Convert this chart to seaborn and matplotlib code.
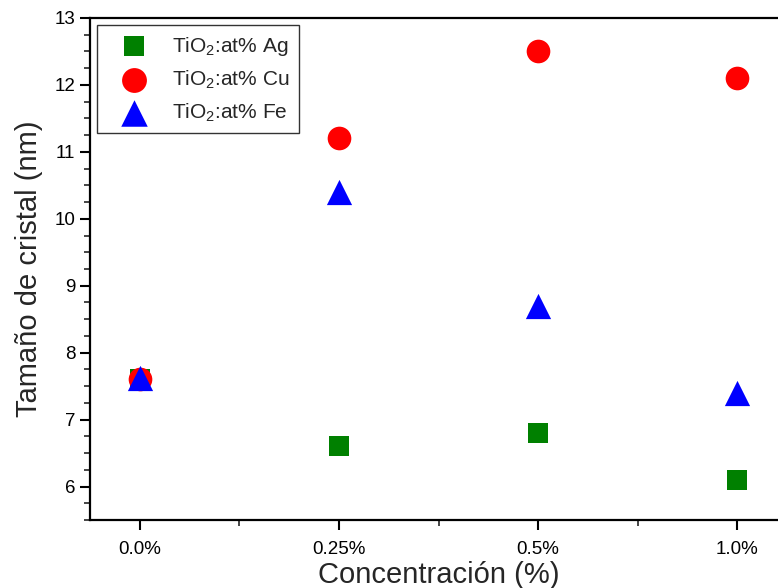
import matplotlib
matplotlib.use("Agg")
import matplotlib.pyplot as plt
from matplotlib.ticker import MultipleLocator
import pandas as pd
import seaborn as sns

# ── data ──
concentrations = ["0.0%", "0.25%", "0.5%", "1.0%"]
ag_size = [7.6, 6.6, 6.8, 6.1]
cu_size = [7.6, 11.2, 12.5, 12.1]
fe_size = [7.62, 10.4, 8.7, 7.4]

series = ["TiO$_2$:at% Ag", "TiO$_2$:at% Cu", "TiO$_2$:at% Fe"]
values = [ag_size, cu_size, fe_size]

STYLE = {
    series[0]: dict(color="#008000", marker="s", s=200),
    series[1]: dict(color="#ff0000", marker="o", s=290),
    series[2]: dict(color="#0000ff", marker="^", s=330),
}

sns.set_theme(style="ticks")
plt.rcParams["font.family"] = ["Liberation Sans", "DejaVu Sans"]
plt.rcParams["mathtext.fontset"] = "custom"
plt.rcParams["mathtext.rm"] = "Liberation Sans"

fig = plt.figure(figsize=(7.78, 5.88), dpi=100)
ax = fig.add_axes([0.1157, 0.1156, 0.8959, 0.8538])

for name, vals in zip(series, values):
    df = pd.DataFrame({"x": range(len(concentrations)), "y": vals})
    st = STYLE[name]
    sns.scatterplot(data=df, x="x", y="y", color=st["color"], marker=st["marker"],
                    s=st["s"], linewidth=0, ax=ax, label=name, zorder=3)

ax.set_xlim(-0.25, 3.25)
ax.set_ylim(5.5, 13)
ax.set_xticks(range(len(concentrations)))
ax.set_xticklabels(concentrations)
ax.xaxis.set_minor_locator(MultipleLocator(0.5))
ax.yaxis.set_major_locator(MultipleLocator(1))
ax.yaxis.set_minor_locator(MultipleLocator(0.25))

ax.tick_params(axis="both", which="major", direction="out", length=7, width=1.5,
               labelsize=13.5, colors="black")
ax.tick_params(axis="both", which="minor", direction="out", length=4, width=1.2)
ax.tick_params(axis="x", which="major", pad=8)

for sp in ax.spines.values():
    sp.set_linewidth(1.6)
    sp.set_color("black")
    sp.set_visible(True)

ax.set_xlabel("Concentración (%)", fontsize=21, labelpad=2)
ax.set_ylabel("Tamaño de cristal (nm)", fontsize=21, labelpad=8)

leg = ax.legend(loc="upper left", fontsize=15, frameon=True, fancybox=False,
                borderaxespad=0.35, handletextpad=0.55, borderpad=0.45,
                handlelength=2.6, labelspacing=0.5, markerscale=1.05)
leg.get_frame().set_edgecolor("black")
leg.get_frame().set_linewidth(1.0)

fig.savefig("out.png", dpi=100)
